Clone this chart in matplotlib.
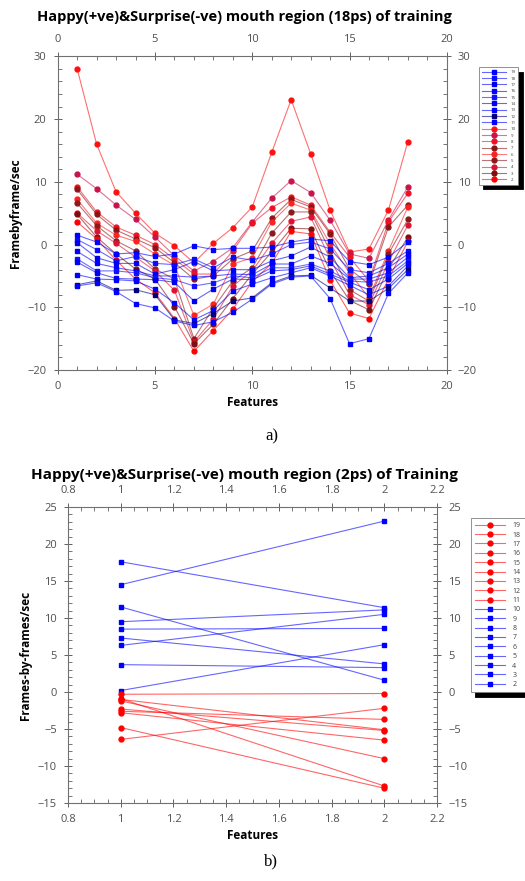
import matplotlib
matplotlib.use('agg')
import matplotlib.pyplot as plt
from matplotlib.ticker import MultipleLocator

plt.rcParams['font.family'] = ['Open Sans', 'DejaVu Sans']

# ---- top chart: 18 features, 18 series ----
features_top = list(range(1, 19))

# Happy (+ve) series, labels 10..2
red_top_labels = ['10', '9', '8', '7', '6', '5', '4', '3', '2']
red_top = [
    [28, 16, 8.4, 5, 1.8, -0.2, -2.9, 0.2, 2.7, 6, 14.7, 23.1, 14.5, 5.5, -1.2, -0.7, 5.5, 16.4],
    [11.2, 8.9, 6.3, 4.0, 1.2, -1.8, -4.2, -2.7, -0.5, 3.6, 7.4, 10.2, 8.3, 3.9, -1.5, -2.2, 3.9, 9.2],
    [9.2, 5.2, 2.8, 1.5, 0.0, -2.3, -4.7, -4.7, -1.0, 3.4, 5.9, 7.6, 6.3, 2.0, -2.0, -5.8, 3.6, 8.2],
    [8.8, 4.8, 2.3, 0.9, -0.5, -2.9, -5.5, -5.0, -2.3, -1.0, 4.2, 7.2, 6.0, 1.7, -3.9, -6.3, 2.8, 6.3],
    [7.2, 3.4, 1.5, 0.5, -1.5, -3.3, -11.3, -9.5, -3.1, -2.1, 3.6, 6.6, 5.5, 0.1, -4.5, -8.5, -1.0, 6.0],
    [6.6, 3.0, 0.6, -1.0, -3.9, -5.5, -15.0, -10.1, -5.8, -3.7, 1.8, 5.2, 5.2, -1.0, -7.2, -9.0, -1.5, 4.0],
    [5.0, 2.2, 0.2, -2.0, -4.2, -7.3, -15.5, -11.9, -6.6, -4.2, 0.2, 3.7, 4.4, -2.3, -8.0, -9.6, -2.8, 3.1],
    [4.8, 1.2, -1.5, -3.9, -5.5, -9.9, -15.8, -12.7, -8.6, -4.7, -1.2, 2.6, 2.5, -4.2, -8.9, -10.4, -3.9, 1.2],
    [3.6, 0.9, -2.5, -5.5, -7.7, -11.8, -17.0, -13.7, -10.3, -5.9, -3.0, 2.1, 1.7, -5.7, -10.9, -11.8, -5.5, 0.5],
]
red_top_colors = ['#ff1010', '#c8144b', '#ee1122', '#8b1515', '#ff2020', '#8b1a1a', '#e01030', '#7a1010', '#ff0000']

# Surprise (-ve) series, labels 19..11
blue_top_labels = ['19', '18', '17', '16', '15', '14', '13', '12', '11']
blue_top = [
    [1.5, 0.4, -1.5, -1.3, -1.9, -1.5, -0.2, -0.8, -0.6, -0.6, -0.4, 0.4, 0.9, 0.6, -2.7, -3.2, -2.0, 0.4],
    [0.8, -0.8, -2.6, -1.9, -3.0, -3.2, -2.3, -3.7, -2.0, -2.5, -1.5, 0.0, 0.4, -0.7, -4.0, -4.5, -3.0, -1.0],
    [0.3, -2.1, -3.0, -3.0, -4.7, -4.0, -2.7, -4.2, -4.0, -4.0, -2.6, -1.8, -0.4, -2.0, -5.3, -5.0, -3.7, -1.5],
    [-1.1, -3.0, -3.7, -4.2, -5.0, -5.0, -5.2, -5.0, -4.7, -4.8, -3.1, -3.1, -1.8, -3.0, -5.5, -5.5, -4.5, -2.0],
    [-2.3, -4.2, -4.2, -4.5, -5.3, -5.6, -6.6, -6.1, -5.0, -5.3, -3.7, -3.7, -3.1, -4.2, -5.8, -6.0, -5.0, -2.6],
    [-2.8, -4.5, -5.4, -5.5, -5.6, -6.0, -9.0, -7.1, -5.5, -5.6, -4.2, -4.0, -3.4, -4.7, -6.0, -7.2, -5.5, -3.0],
    [-4.8, -5.5, -5.6, -5.8, -7.1, -9.3, -12.0, -10.5, -7.4, -6.3, -5.3, -4.5, -3.7, -5.0, -6.5, -8.0, -6.6, -3.4],
    [-6.4, -5.8, -7.3, -7.2, -8.0, -12.0, -12.6, -11.0, -9.0, -8.5, -6.1, -5.0, -4.9, -6.9, -9.0, -9.0, -7.0, -4.0],
    [-6.6, -6.1, -7.5, -9.4, -10.1, -12.2, -12.9, -12.3, -10.8, -8.7, -6.3, -5.2, -5.0, -8.6, -15.8, -15.0, -7.8, -4.5],
]
blue_top_colors = ['#0000ff', '#0a0aff', '#0000ee', '#0000ff', '#1010ff', '#0000f0', '#0000ff', '#000080', '#0000ff']

# ---- bottom chart: 2 features, 18 series ----
features_bot = [1, 2]
blue_bot_labels = ['10', '9', '8', '7', '6', '5', '4', '3', '2']
blue_bot = [
    [17.6, 11.4], [14.5, 23.1], [11.5, 1.6], [9.5, 11.1], [8.5, 8.6],
    [7.3, 3.8], [6.3, 10.5], [3.7, 3.3], [0.2, 6.4],
]
red_bot_labels = ['19', '18', '17', '16', '15', '14', '13', '12', '11']
red_bot = [
    [-0.3, -0.2], [-0.9, -12.7], [-1.0, -5.1], [-1.2, -9.0], [-2.3, -5.2],
    [-2.6, -3.7], [-2.8, -6.5], [-4.8, -13.0], [-6.4, -2.2],
]

title_top = 'Happy(+ve)&Surprise(-ve) mouth region (18ps) of training'
title_bot = 'Happy(+ve)&Surprise(-ve) mouth region (2ps) of Training'


def rgba(c, a):
    c = matplotlib.colors.to_rgba(c)
    return (c[0], c[1], c[2], a)


def style_axes(ax):
    for s in ax.spines.values():
        s.set_color('#707070')
        s.set_linewidth(0.8)
    ax.tick_params(which='both', top=True, right=True, labeltop=True, labelright=True,
                   colors='#606060', labelcolor='#505050', labelsize=8)
    ax.tick_params(which='major', direction='inout', length=6, width=0.7, pad=5)
    ax.tick_params(which='minor', direction='in', length=3, width=0.6)


def plot_series(ax, x, series, labels, colors, marker, ms):
    handles = {}
    for ys, lab, col in zip(series, labels, colors):
        h, = ax.plot(x, ys, color=rgba(col, 0.6), lw=0.8, marker=marker, ms=ms,
                     mfc=col, mec=col, label=lab)
        handles[lab] = h
    return handles


def add_legend(ax, handles, order, anchor, fontsize, spacing, hl):
    hs = [handles[k] for k in order]
    leg = ax.legend(hs, order, loc='upper left', bbox_to_anchor=anchor,
                    bbox_transform=ax.figure.transFigure, fontsize=fontsize,
                    labelspacing=spacing, handlelength=hl, handletextpad=1.0,
                    borderpad=0.6, fancybox=False, framealpha=1,
                    edgecolor='#808080', shadow={'color': 'black', 'alpha': 1, 'ox': 3, 'oy': -3})
    leg.get_frame().set_linewidth(0.6)
    for t in leg.get_texts():
        t.set_color('#404040')


fig = plt.figure(figsize=(5.25, 8.81), dpi=100)

# top chart
ax1 = fig.add_axes([0.110, 0.580, 0.741, 0.356])
h1 = plot_series(ax1, features_top, red_top, red_top_labels, red_top_colors, 'o', 3.5)
h1.update(plot_series(ax1, features_top, blue_top, blue_top_labels, blue_top_colors, 's', 3.5))
ax1.set_xlim(0, 20)
ax1.set_ylim(-20, 30)
ax1.xaxis.set_major_locator(MultipleLocator(5))
ax1.xaxis.set_minor_locator(MultipleLocator(1))
ax1.yaxis.set_major_locator(MultipleLocator(10))
ax1.yaxis.set_minor_locator(MultipleLocator(2))
style_axes(ax1)
ax1.set_xlabel('Features', fontsize=8.5, fontweight='bold', labelpad=3)
ax1.set_ylabel('Framebyframe/sec', fontsize=8.5, fontweight='bold', labelpad=4)
fig.text(0.466, 0.981, title_top, ha='center', va='center', fontsize=10.5, fontweight='bold')
order1 = [str(i) for i in range(19, 1, -1)]
add_legend(ax1, h1, order1, (0.908, 0.926), 3.2, 0.5, 5.5)
fig.text(0.518, 0.505, 'a)', ha='center', va='center', fontsize=12, family='Liberation Serif')

# bottom chart
ax2 = fig.add_axes([0.1295, 0.0885, 0.703, 0.336])
h2 = plot_series(ax2, features_bot, blue_bot, blue_bot_labels, ['#0000ff'] * 9, 's', 3.5)
h2.update(plot_series(ax2, features_bot, red_bot, red_bot_labels, ['#ff0000'] * 9, 'o', 3.5))
ax2.set_xlim(0.8, 2.2)
ax2.set_ylim(-15, 25)
ax2.xaxis.set_major_locator(MultipleLocator(0.2))
ax2.xaxis.set_minor_locator(MultipleLocator(0.05))
ax2.yaxis.set_major_locator(MultipleLocator(5))
ax2.yaxis.set_minor_locator(MultipleLocator(1))
ax2.xaxis.set_major_formatter(plt.FuncFormatter(lambda v, p: ('%.1f' % v).rstrip('0').rstrip('.')))
style_axes(ax2)
ax2.set_xlabel('Features', fontsize=8.5, fontweight='bold', labelpad=3)
ax2.set_ylabel('Frames-by-frames/sec', fontsize=8.5, fontweight='bold', labelpad=4)
fig.text(0.465, 0.461, title_bot, ha='center', va='center', fontsize=11, fontweight='bold')
order2 = [str(i) for i in range(19, 1, -1)]
add_legend(ax2, h2, order2, (0.891, 0.416), 5, 0.34, 4.3)
fig.text(0.516, 0.022, 'b)', ha='center', va='center', fontsize=12, family='Liberation Serif')

fig.savefig('out.png', dpi=100)
